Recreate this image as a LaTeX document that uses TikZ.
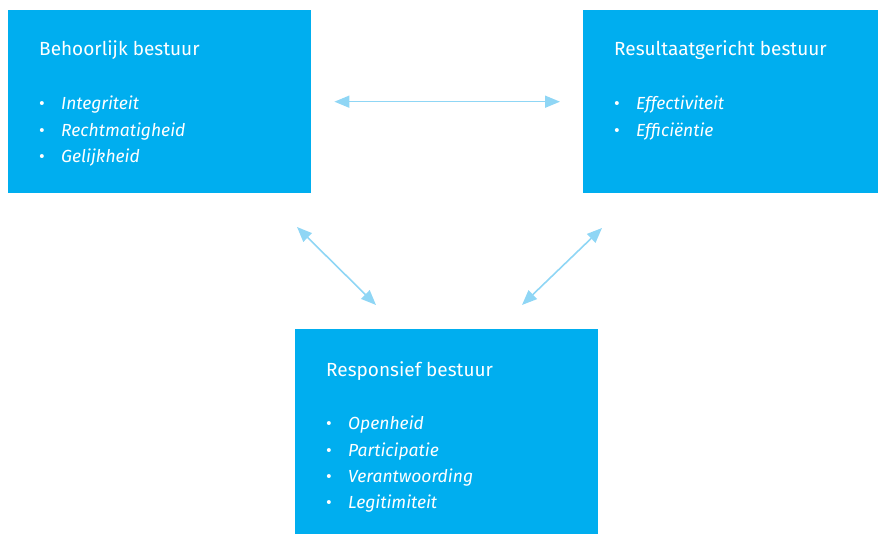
\documentclass[tikz,border=0pt]{standalone}
\usepackage{fontspec}
\setmainfont{Fira Sans}
\usetikzlibrary{arrows.meta}
\definecolor{boxblue}{RGB}{0,174,239}
\definecolor{arrowblue}{RGB}{143,214,245}

\begin{document}
\begin{tikzpicture}[x=1pt,y=-1pt,
    box/.style={fill=boxblue,draw=none,anchor=north west,inner sep=0pt},
    title/.style={anchor=base west,text=white,inner sep=0pt,font=\fontsize{19}{22}\selectfont},
    item/.style={anchor=base west,text=white,inner sep=0pt,font=\fontsize{17.5}{21}\selectfont\itshape},
    link/.style={{Triangle[length=15pt,width=12pt]}-{Triangle[length=15pt,width=12pt]},line width=1.6pt,arrowblue}]
  \useasboundingbox (0,0) rectangle (878,534);

  % the three boxes
  \node[box,minimum width=303pt,minimum height=183pt] (behoorlijk) at (8,10) {};
  \node[box,minimum width=295pt,minimum height=183pt] (resultaat) at (583,10) {};
  \node[box,minimum width=303pt,minimum height=205pt] (responsief) at (295,329) {};

  % titles
  \node[title] (behoorlijk-title) at (39,56) {Behoorlijk bestuur};
  \node[title] (resultaat-title) at (614,56) {Resultaatgericht bestuur};
  \node[title] (responsief-title) at (326,377) {Responsief bestuur};

  % bullet lists
  \foreach \txt [count=\i] in {Integriteit,Rechtmatigheid,Gelijkheid}
    \node[item] (behoorlijk-\i) at (39,{83.5+26.3*\i}) {\makebox[22pt][l]{\upshape\textbullet}\txt};
  \foreach \txt [count=\i] in {Effectiviteit,Efficiëntie}
    \node[item] (resultaat-\i) at (614,{83.5+26.3*\i}) {\makebox[22pt][l]{\upshape\textbullet}\txt};
  \foreach \txt [count=\i] in {Openheid,Participatie,Verantwoording,Legitimiteit}
    \node[item] (responsief-\i) at (326,{403.5+26.3*\i}) {\makebox[22pt][l]{\upshape\textbullet}\txt};

  % arrows
  \coordinate (lt) at (297,227);
  \coordinate (lb) at (376,305);
  \coordinate (rt) at (602,228);
  \coordinate (rb) at (522,305);
  \draw[link,shorten <=23pt,shorten >=23pt] (behoorlijk.east) -- (resultaat.west);
  \draw[link] (lt) -- (lb);
  \draw[link] (rt) -- (rb);
\end{tikzpicture}
\end{document}
